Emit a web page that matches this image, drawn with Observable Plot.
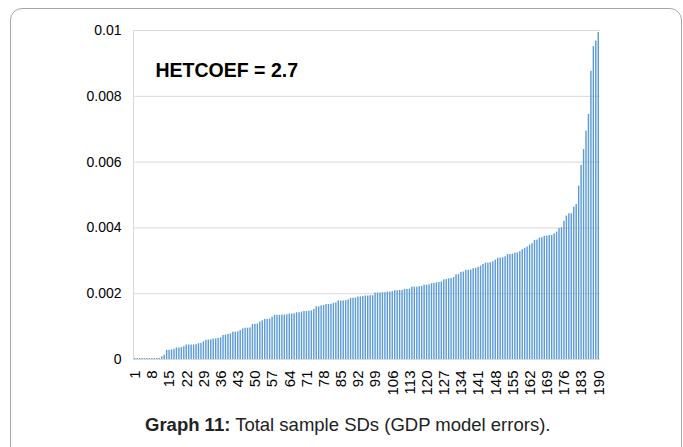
<!DOCTYPE html>
<html>
<head>
<meta charset="utf-8">
<script src="https://cdn.jsdelivr.net/npm/d3@7"></script>
<script src="https://cdn.jsdelivr.net/npm/@observablehq/plot@0.6"></script>
<style>
  html, body { margin: 0; padding: 0; background: #fff; width: 683px; height: 447px; overflow: hidden; }
  #frame { position: absolute; left: 10px; top: 8px; width: 672px; height: 470px; border: 1px solid #a6a6a6; border-radius: 12px; box-sizing: border-box; }
  #chart { position: absolute; left: 0; top: 0; }
  #caption { position: absolute; left: 145px; top: 414px; font-family: "Liberation Sans", Arial, sans-serif; font-size: 18.5px; color: #222; white-space: nowrap; }
</style>
</head>
<body>
<div id="frame"></div>
<div id="chart"></div>
<div id="caption"><b>Graph 11:</b> Total sample SDs (GDP model errors).</div>
<script>
const sdValues = [
  0.00003, 0.00003, 0.00003, 0.00003, 0.00003, 0.00003, 0.00003, 0.00003, 0.00003, 0.00003,
  0.00003, 0.00008, 0.00013, 0.00028, 0.00028, 0.00029, 0.00031, 0.00035, 0.00035, 0.00036,
  0.00039, 0.00044, 0.00044, 0.00044, 0.00044, 0.00045, 0.00048, 0.00049, 0.00054, 0.00058,
  0.00059, 0.0006, 0.00062, 0.00063, 0.00064, 0.00066, 0.00073, 0.00074, 0.00076, 0.00078,
  0.00083, 0.00083, 0.00084, 0.00088, 0.00093, 0.00095, 0.00095, 0.00096, 0.00106, 0.00107,
  0.00108, 0.00114, 0.00118, 0.00122, 0.00122, 0.00123, 0.00129, 0.00134, 0.00134, 0.00134,
  0.00135, 0.00135, 0.00136, 0.00138, 0.00138, 0.00139, 0.00142, 0.00142, 0.00144, 0.00146,
  0.00146, 0.00147, 0.00148, 0.00152, 0.0016, 0.0016, 0.00163, 0.00164, 0.00167, 0.00167,
  0.00168, 0.00171, 0.00172, 0.00178, 0.00178, 0.00178, 0.00179, 0.00181, 0.00186, 0.00186,
  0.00187, 0.0019, 0.0019, 0.00191, 0.00193, 0.00193, 0.00194, 0.00194, 0.00202, 0.00202,
  0.00202, 0.00203, 0.00203, 0.00205, 0.00205, 0.00206, 0.00209, 0.00209, 0.0021, 0.0021,
  0.00213, 0.00213, 0.00214, 0.0022, 0.0022, 0.0022, 0.00221, 0.00222, 0.00226, 0.00226,
  0.00227, 0.0023, 0.00231, 0.00233, 0.00234, 0.00236, 0.00242, 0.00243, 0.00245, 0.00246,
  0.00249, 0.00257, 0.00258, 0.00265, 0.00266, 0.00271, 0.00271, 0.00272, 0.00276, 0.00277,
  0.0028, 0.00284, 0.00289, 0.00293, 0.00293, 0.00294, 0.00297, 0.00302, 0.00308, 0.00308,
  0.00309, 0.00312, 0.00319, 0.00319, 0.0032, 0.00323, 0.00324, 0.00328, 0.00334, 0.00338,
  0.00342, 0.00348, 0.00352, 0.00362, 0.00363, 0.00369, 0.0037, 0.00374, 0.00375, 0.00377,
  0.00377, 0.00382, 0.00387, 0.00398, 0.004, 0.0042, 0.00436, 0.00443, 0.00443, 0.00463,
  0.00471, 0.00527, 0.0059, 0.00638, 0.00694, 0.00745, 0.00876, 0.00951, 0.00968, 0.00994
];
const sampleIds = sdValues.map((_, i) => i + 1);
const xTickLabels = [1, 8, 15, 22, 29, 36, 43, 50, 57, 64, 71, 78, 85, 92, 99, 106, 113, 120, 127, 134, 141, 148, 155, 162, 169, 176, 183, 190];
const yTicks = [0, 0.002, 0.004, 0.006, 0.008, 0.01];
const yTickLabels = ["0", "0.002", "0.004", "0.006", "0.008", "0.01"];
const annotation = "HETCOEF = 2.7";

const data = sampleIds.map((id, i) => ({id, sd: sdValues[i]}));

const chart = Plot.plot({
  width: 683,
  height: 400,
  marginLeft: 133,
  marginRight: 83,
  marginTop: 30,
  marginBottom: 41,
  style: {fontFamily: "'Liberation Sans', Arial, sans-serif", fontSize: "14px", color: "#000", background: "transparent"},
  x: {type: "band", domain: sampleIds, padding: 0.42, label: null},
  y: {domain: [0, 0.01], label: null},
  marks: [
    Plot.gridY(yTicks, {stroke: "#d9d9d9", strokeOpacity: 1, strokeWidth: 1}),
    Plot.frame({anchor: "left", stroke: "#d9d9d9"}),
    Plot.barY(data, {x: "id", y: "sd", fill: "#5b9bd5"}),
    Plot.axisY(yTicks, {tickSize: 0, tickPadding: 12, tickFormat: (d, i) => yTickLabels[i], fontSize: 14}),
    Plot.axisX(xTickLabels, {tickSize: 0, tickPadding: 11, tickRotate: -90, fontSize: 15}),
    Plot.text([annotation], {frameAnchor: "top-left", dx: 22, dy: 33, text: d => d, fontWeight: "bold", fontSize: 19.5, textAnchor: "start", fill: "#000"})
  ]
});
document.getElementById("chart").appendChild(chart);
</script>
</body>
</html>
